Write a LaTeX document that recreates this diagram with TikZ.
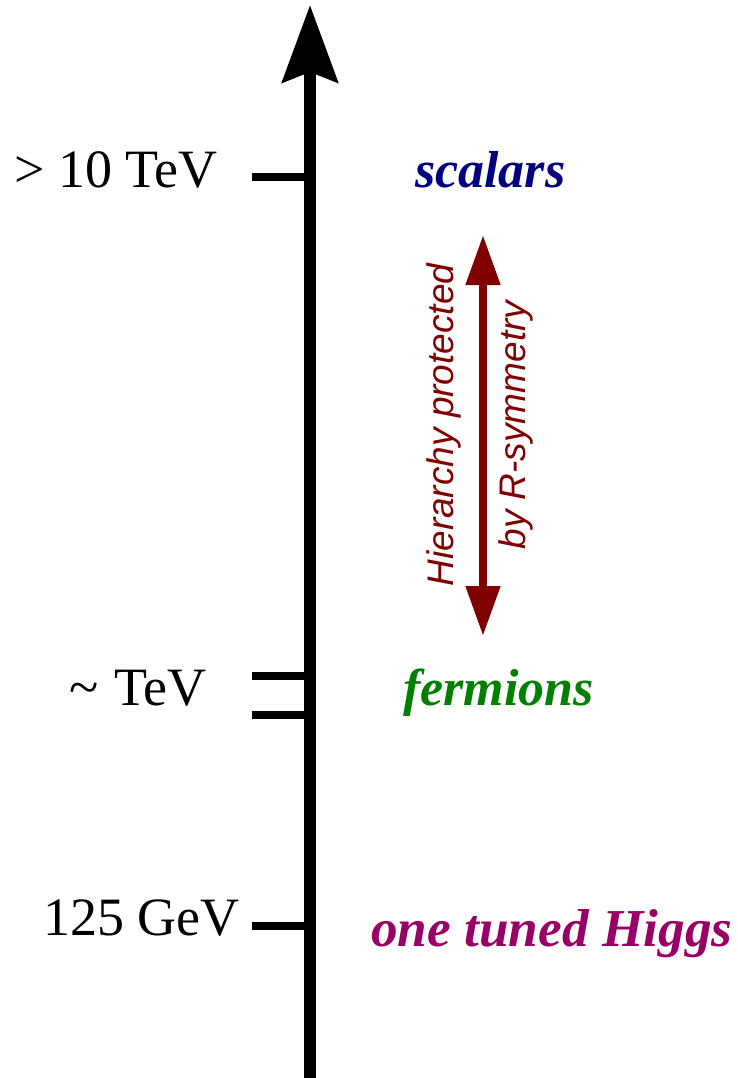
\documentclass[tikz,border=0pt]{standalone}
\usepackage{fontspec}
\setmainfont{Liberation Serif}
\setsansfont{Liberation Sans}
\usetikzlibrary{arrows.meta}
\definecolor{scalcol}{HTML}{000080}
\definecolor{fermcol}{HTML}{008000}
\definecolor{higgscol}{HTML}{990066}
\definecolor{hiercol}{HTML}{800000}
\tikzset{
  axisline/.style={line width=12pt, -{Stealth[length=77pt,width=55pt,inset=10pt]}},
  tick/.style={line width=8pt},
  scalelabel/.style={inner sep=0pt, anchor=base west, font=\fontsize{54}{58}\selectfont},
  partlabel/.style={inner sep=0pt, anchor=base west, font=\fontsize{52}{56}\selectfont\bfseries\itshape},
  hiertext/.style={inner sep=0pt, anchor=base, rotate=90, text=hiercol, font=\fontsize{37}{40}\sffamily\itshape},
  hierarrow/.style={line width=8pt, draw=hiercol, {Triangle[length=50pt,width=33pt]}-{Triangle[length=50pt,width=33pt]}}
}
\begin{document}
\begin{tikzpicture}[x=1pt,y=-1pt]
\useasboundingbox (0,0) rectangle (737,1078);
% axis
\coordinate (axbot) at (310,1078);
\coordinate (axtop) at (310,5);
\draw[axisline] (axbot) -- (axtop);
% ticks
\coordinate (t1a) at (252,177); \coordinate (t1b) at (310,177);
\coordinate (t2a) at (252,676); \coordinate (t2b) at (310,676);
\coordinate (t3a) at (252,715); \coordinate (t3b) at (310,715);
\coordinate (t4a) at (252,926); \coordinate (t4b) at (310,926);
\draw[tick] (t1a) -- (t1b);
\draw[tick] (t2a) -- (t2b);
\draw[tick] (t3a) -- (t3b);
\draw[tick] (t4a) -- (t4b);
% scale labels
\node[scalelabel] (l1) at (14,187) {> 10 TeV};
\node[scalelabel] (l2) at (69,705) {\char"007E\hspace{0.3em}TeV};
\node[scalelabel] (l3) at (43,935) {125 GeV};
% particle labels
\node[partlabel, text=scalcol] (p1) at (415,187) {scalars};
\node[partlabel, text=fermcol] (p2) at (403,705) {fermions};
\node[partlabel, text=higgscol, font=\fontsize{53.3}{56}\selectfont\bfseries\itshape] (p3) at (371,946) {one tuned Higgs};
% hierarchy arrow
\coordinate (ha) at (483,636);
\coordinate (hb) at (483,235);
\draw[hierarrow] (ha) -- (hb);
\node[hiertext] (h1) at (453,425) {Hierarchy protected};
\node[hiertext] (h2) at (525,425) {by R-symmetry};
\end{tikzpicture}
\end{document}
